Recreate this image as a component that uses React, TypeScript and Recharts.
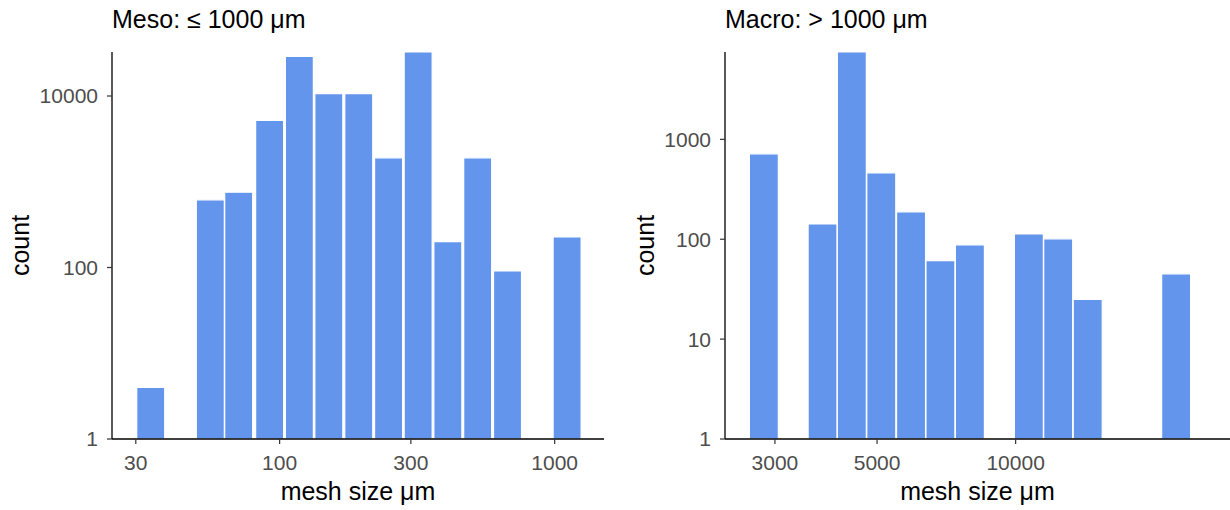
import React from 'react';
import { BarChart, Bar, XAxis, YAxis } from 'recharts';

// Meso panel (<= 1000 um): bin centres, counts off the log y axis
const mesoBins = [34, 43, 56, 71, 92, 118, 151, 194, 249, 319, 409, 525, 674, 865, 1110];
const mesoCounts = [4, null, 615, 754, 5190, 29000, 10640, 10640, 1900, 32600, 200, 1900, 91, null, 227];
const mesoEdges = [29.8, 1257];
const mesoTicks = [30, 100, 300, 1000];
const mesoCountTicks = [1, 100, 10000];

// Macro panel (> 1000 um)
const macroBins = [2840, 3290, 3810, 4410, 5110, 5930, 6870, 7960, 9220, 10690, 12380, 14350, 16630, 19270, 22330];
const macroCounts = [717, null, 142, 7490, 462, 188, 61, 88, null, 113, 101, 25, null, null, 45];
const macroEdges = [2635, 24040];
const macroTicks = [3000, 5000, 10000];
const macroCountTicks = [1, 10, 100, 1000];

const FONT = '"Liberation Sans", Arial, sans-serif';
const BAR_FILL = '#6495ED';

interface PanelProps {
    title: string;
    bins: number[];
    counts: (number | null)[];
    edges: number[];
    ticks: number[];
    countTicks: number[];
    left: number;
    yAxisWidth: number;
    marginRight: number;
    padLeft: number;
    padRight: number;
    countLabelX: number;
}

function Panel({
    title, bins, counts, edges, ticks, countTicks, left, yAxisWidth, marginRight, padLeft, padRight, countLabelX,
}: PanelProps) {
    const data = bins.map((bin, i) => ({ bin, count: counts[i] }));

    return (
        <div style={{ position: 'absolute', left, top: 0, width: 615, height: 510 }}>
            <BarChart
                width={615}
                height={510}
                data={data}
                margin={{ top: 52, right: marginRight, bottom: 0, left: 0 }}
                barCategoryGap={0}
                barGap={0}
            >
                <XAxis
                    dataKey="bin"
                    type="number"
                    scale="log"
                    domain={edges}
                    allowDataOverflow
                    ticks={ticks}
                    interval={0}
                    padding={{ left: padLeft, right: padRight }}
                    height={71}
                    tickSize={5}
                    tickMargin={11}
                    axisLine={{ stroke: '#000', strokeWidth: 1.3 }}
                    tickLine={{ stroke: '#333', strokeWidth: 1.2 }}
                    tick={{ fill: '#4d4d4d', fontSize: 21, fontFamily: FONT }}
                    label={{
                        value: 'mesh size μm',
                        position: 'insideBottom',
                        offset: 10,
                        fill: '#000',
                        fontSize: 25,
                        fontFamily: FONT,
                    }}
                />
                <YAxis
                    scale="log"
                    domain={[1, 'dataMax']}
                    ticks={countTicks}
                    interval={0}
                    width={yAxisWidth}
                    tickSize={5}
                    tickMargin={9}
                    axisLine={{ stroke: '#000', strokeWidth: 1.3 }}
                    tickLine={{ stroke: '#333', strokeWidth: 1.2 }}
                    tick={{ fill: '#4d4d4d', fontSize: 21, fontFamily: FONT }}
                    label={(props: any) => {
                        const vb = props.viewBox;
                        const cx = vb.x + countLabelX;
                        const cy = vb.y + vb.height / 2;
                        return (
                            <text
                                x={cx}
                                y={cy}
                                transform={`rotate(-90 ${cx} ${cy})`}
                                textAnchor="middle"
                                dominantBaseline="central"
                                fill="#000"
                                fontSize={25}
                                fontFamily={FONT}
                            >
                                count
                            </text>
                        );
                    }}
                />
                <Bar
                    dataKey="count"
                    fill={BAR_FILL}
                    stroke="#fff"
                    strokeWidth={1.2}
                    isAnimationActive={false}
                />
            </BarChart>
            <svg width={615} height={40} style={{ position: 'absolute', left: 0, top: 0 }}>
                <text x={yAxisWidth} y={28} fill="#000" fontSize={25} fontFamily={FONT}>
                    {title}
                </text>
            </svg>
        </div>
    );
}

export default function App() {
    return (
        <div style={{ position: 'absolute', left: 0, top: 0, width: 1230, height: 510, background: '#fff' }}>
            <Panel
                title="Meso: ≤ 1000 μm"
                bins={mesoBins}
                counts={mesoCounts}
                edges={mesoEdges}
                ticks={mesoTicks}
                countTicks={mesoCountTicks}
                left={0}
                yAxisWidth={112}
                marginRight={11}
                padLeft={23}
                padRight={22}
                countLabelX={20}
            />
            <Panel
                title="Macro: > 1000 μm"
                bins={macroBins}
                counts={macroCounts}
                edges={macroEdges}
                ticks={macroTicks}
                countTicks={macroCountTicks}
                left={615}
                yAxisWidth={110}
                marginRight={0}
                padLeft={24}
                padRight={39}
                countLabelX={30}
            />
        </div>
    );
}
